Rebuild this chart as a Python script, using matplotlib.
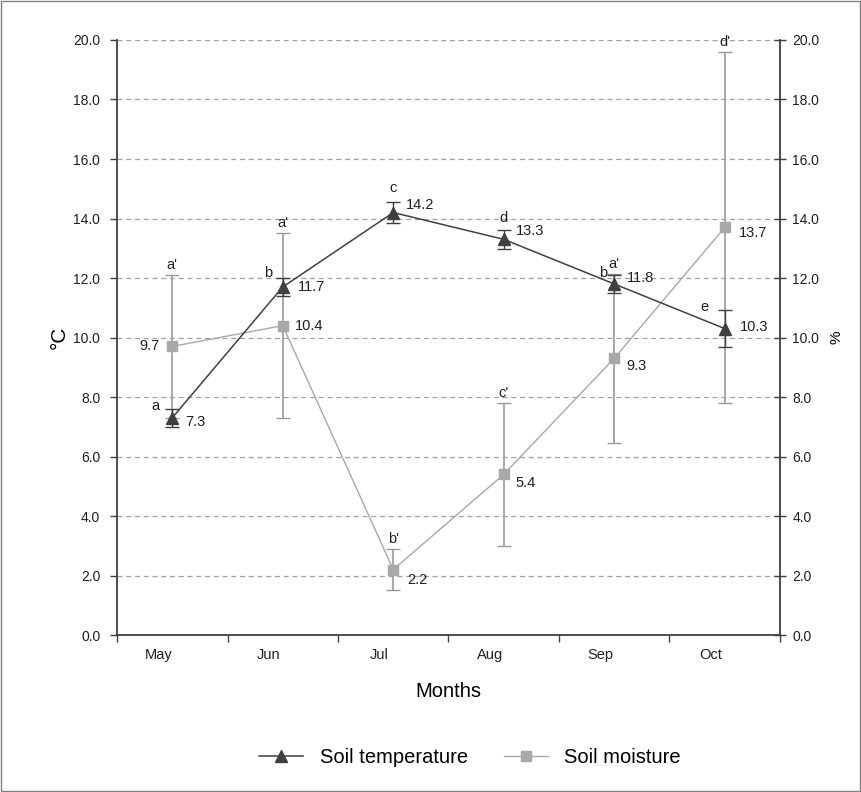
import numpy as np
import matplotlib
matplotlib.use('Agg')
import matplotlib.pyplot as plt
import matplotlib.transforms as mtransforms
from matplotlib.lines import Line2D
from matplotlib.patches import Rectangle

plt.rcParams['font.family'] = ['Liberation Sans', 'DejaVu Sans']

MONTHS = ['May', 'Jun', 'Jul', 'Aug', 'Sep', 'Oct']

# Soil temperature, degrees C, with error and group letters
TEMPERATURE = [7.3, 11.7, 14.2, 13.3, 11.8, 10.3]
TEMPERATURE_ERR = [0.3, 0.3, 0.35, 0.33, 0.3, 0.63]
TEMPERATURE_GROUPS = ['a', 'b', 'c', 'd', 'b', 'e']

# Soil moisture, %, with error and group letters
MOISTURE = [9.7, 10.4, 2.2, 5.4, 9.3, 13.7]
MOISTURE_ERR = [2.4, 3.1, 0.7, 2.4, 2.85, 5.9]
MOISTURE_GROUPS = ["a'", "a'", "b'", "c'", "a'", "d'"]

Y_TICKS = [0, 2, 4, 6, 8, 10, 12, 14, 16, 18, 20]

# Layout of the labels, in pixels (dx, dy up)
TEMP_LETTER_OFFSETS = [(-17, 12), (-15, 14), (0, 25), (0, 21), (-11, 11), (-20, 22)]
TEMP_VALUE_OFFSETS = [(13, -4), (15, 0), (13, 8), (12, 8), (13, 6), (15, 2)]
MOIST_VALUE_OFFSETS = [(-13, 0), (12, 0), (14, -10), (12, -9), (12, -8), (14, -6)]

DARK = '#404040'
LIGHT = '#a8a8a8'


def setup_axes(ax, ax2, fig):
	"""Set limits, ticks, grid and spines of both axes"""
	ax.set_xlim(0, len(MONTHS))
	ax.set_ylim(0, 20)
	ax2.set_ylim(0, 20)

	ax.set_yticks(Y_TICKS)
	ax.set_yticklabels(['%.1f' % v for v in Y_TICKS], fontsize=10, color='#202020')
	ax2.set_yticks(Y_TICKS)
	ax2.set_yticklabels(['%.1f' % v for v in Y_TICKS], fontsize=10, color='#202020')

	# Category boundaries get tick marks, centres get the labels
	ax.set_xticks(np.arange(len(MONTHS) + 1))
	ax.set_xticklabels([])
	ax.set_xticks(np.arange(len(MONTHS)) + 0.5, minor=True)
	ax.set_xticklabels(MONTHS, minor=True, fontsize=10.5, color='#202020')
	ax.tick_params(axis='x', which='minor', length=0, pad=9)
	ax.tick_params(axis='x', which='major', length=5, width=1, color=DARK)
	shift = mtransforms.ScaledTranslation(-14 / 100, 0, fig.dpi_scale_trans)
	for label in ax.xaxis.get_minorticklabels():
		label.set_transform(label.get_transform() + shift)

	ax.tick_params(axis='y', length=5, width=1, color=DARK, pad=7)
	ax2.tick_params(axis='y', direction='inout', length=8, width=1, color=DARK, pad=5)

	ax.yaxis.grid(True, linestyle=(0, (4, 3)), color='#a0a0a0', linewidth=0.9)
	ax.set_axisbelow(True)

	for name in ['left', 'bottom']:
		ax.spines[name].set_color(DARK)
		ax.spines[name].set_linewidth(1.3)
	ax.spines['top'].set_visible(False)
	ax.spines['right'].set_visible(False)
	for name in ['left', 'bottom', 'top']:
		ax2.spines[name].set_visible(False)
	ax2.spines['right'].set_color(DARK)
	ax2.spines['right'].set_linewidth(1.3)

	ax.set_xlabel('Months', fontsize=14.5, labelpad=15)
	ax.set_ylabel('°C', fontsize=15, labelpad=3)
	ax2.set_ylabel('%', fontsize=11, rotation=90, labelpad=7)


def main():
	fig = plt.figure(figsize=(8.61, 7.92), dpi=100)
	ax = fig.add_axes([0.1359, 0.1982, 0.770, 0.7513])
	ax2 = ax.twinx()

	x = np.arange(len(MONTHS)) + 0.5

	ax.errorbar(x, MOISTURE, yerr=MOISTURE_ERR, fmt='-s', color=LIGHT,
	            ecolor='#9a9a9a', elinewidth=1.2, capsize=5, capthick=1,
	            markersize=7, linewidth=1, zorder=3)
	ax.errorbar(x, TEMPERATURE, yerr=TEMPERATURE_ERR, fmt='-^', color=DARK,
	            ecolor=DARK, elinewidth=1, capsize=5, capthick=1,
	            markersize=8, linewidth=1.1, zorder=4)

	# Values and group letters
	for i in range(len(MONTHS)):
		dx, dy = TEMP_VALUE_OFFSETS[i]
		ax.annotate('%.1f' % TEMPERATURE[i], (x[i], TEMPERATURE[i]),
		            xytext=(dx, dy), textcoords='offset pixels',
		            ha='left', va='center', fontsize=10.5, color='#202020', zorder=6)
		dx, dy = TEMP_LETTER_OFFSETS[i]
		ax.annotate(TEMPERATURE_GROUPS[i], (x[i], TEMPERATURE[i]),
		            xytext=(dx, dy), textcoords='offset pixels',
		            ha='center', va='center', fontsize=10.5, color='#202020', zorder=6)

		dx, dy = MOIST_VALUE_OFFSETS[i]
		ax.annotate('%.1f' % MOISTURE[i], (x[i], MOISTURE[i]),
		            xytext=(dx, dy), textcoords='offset pixels',
		            ha='left' if dx > 0 else 'right', va='center',
		            fontsize=10.5, color='#202020', zorder=6)
		ax.annotate(MOISTURE_GROUPS[i], (x[i], MOISTURE[i] + MOISTURE_ERR[i]),
		            xytext=(0, 10), textcoords='offset pixels',
		            ha='center', va='center', fontsize=10.5, color='#202020', zorder=6)

	setup_axes(ax, ax2, fig)

	handles = [
		Line2D([], [], color=DARK, marker='^', markersize=8, linewidth=1.1),
		Line2D([], [], color=LIGHT, marker='s', markersize=7, linewidth=1),
	]
	fig.legend(handles, ['Soil temperature', 'Soil moisture'], loc='center',
	           bbox_to_anchor=(0.546, 0.043), ncol=2, frameon=False,
	           fontsize=14.5, handlelength=2.2, columnspacing=1.8)

	# Thin frame around the whole chart
	fig.patches.append(Rectangle((0.001, 0.001), 0.998, 0.998, transform=fig.transFigure,
	                             fill=False, edgecolor='#808080', linewidth=1))

	fig.savefig('out.png', dpi=100)


if __name__ == '__main__':
	main()
